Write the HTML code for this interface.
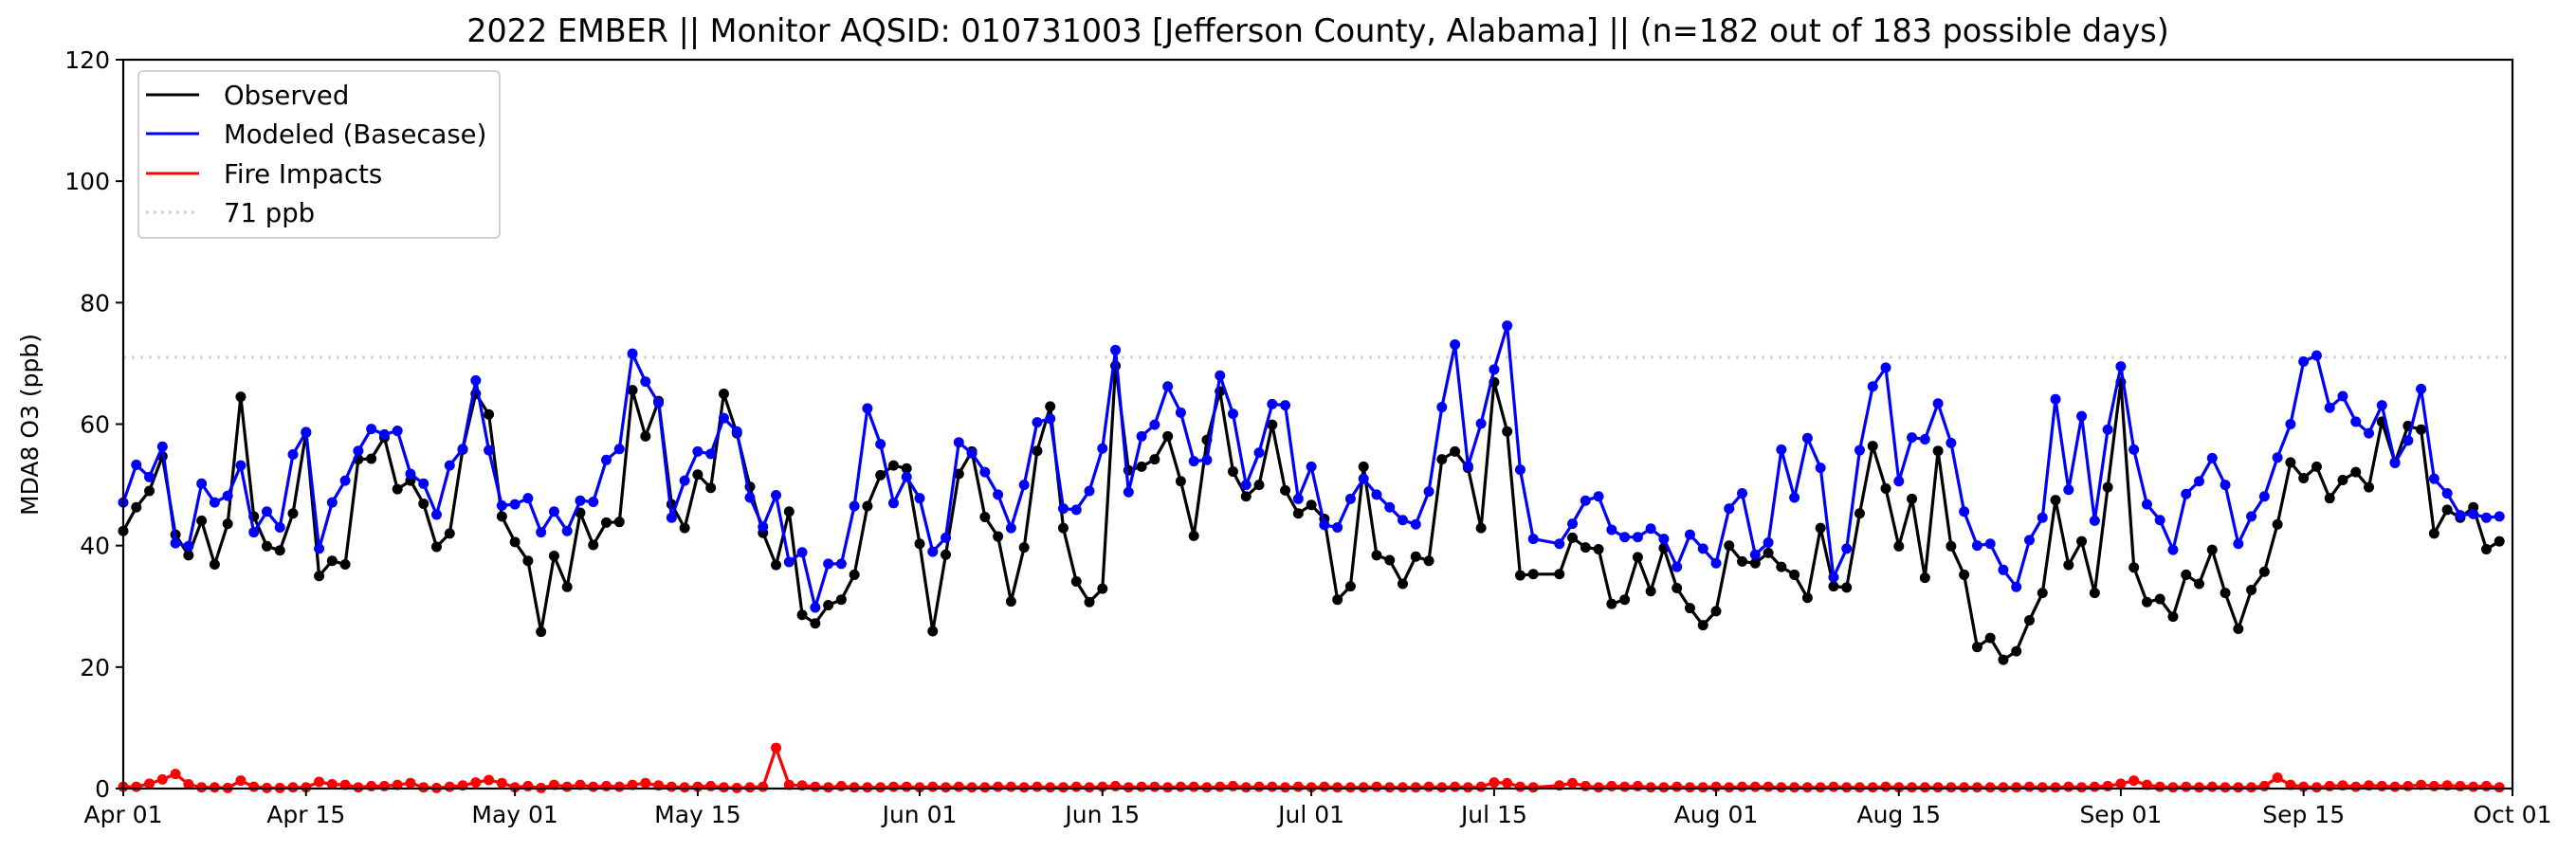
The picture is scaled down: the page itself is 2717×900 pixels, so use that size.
<!DOCTYPE html>
<html><head><meta charset="utf-8"><style>
html,body{margin:0;padding:0;background:#fff;}
svg{display:block;font-family:"DejaVu Sans","Liberation Sans",sans-serif;}
</style></head><body>
<svg id="chart" width="2717" height="900" viewBox="0 0 2717 900" xmlns="http://www.w3.org/2000/svg">
<rect width="2717" height="900" fill="#fff"/>
<text x="1390" y="44" font-size="33.4" text-anchor="middle" fill="#000">2022 EMBER || Monitor AQSID: 010731003 [Jefferson County, Alabama] || (n=182 out of 183 possible days)</text>
<text transform="translate(40,448) rotate(-90)" font-size="25" text-anchor="middle" fill="#000">MDA8 O3 (ppb)</text>
<g id="grid"></g>
<g id="series"></g>
<rect x="130" y="63" width="2520" height="769" fill="none" stroke="#000" stroke-width="2.2"/>
<g id="axes"></g>
<g>
<rect x="146" y="75" width="381" height="176" rx="5" fill="#fff" fill-opacity="0.8" stroke="#d0d0d0" stroke-width="2"/>
<line x1="154" y1="100" x2="210" y2="100" stroke="#000" stroke-width="3"/>
<text x="236" y="110" font-size="27.5">Observed</text>
<line x1="154" y1="141" x2="210" y2="141" stroke="#0000ff" stroke-width="3"/>
<text x="236" y="151" font-size="27.5">Modeled (Basecase)</text>
<line x1="154" y1="183" x2="210" y2="183" stroke="#ff0000" stroke-width="3"/>
<text x="236" y="193" font-size="27.5">Fire Impacts</text>
<line x1="154" y1="224" x2="210" y2="224" stroke="#d3d3d3" stroke-width="3" stroke-dasharray="3,5"/>
<text x="236" y="234" font-size="27.5">71 ppb</text>
</g>
</svg>
<script>
const observed = [42.4,46.3,49,54.7,41.8,38.4,44.1,36.9,43.6,64.5,44.8,39.9,39.2,45.3,58.6,35,37.5,36.9,54.2,54.3,57.8,49.3,50.7,46.9,39.8,42,55.8,65,61.6,44.8,
40.6,37.5,25.8,38.3,33.2,45.4,40.1,43.8,43.9,65.6,58.0,63.8,46.8,42.9,51.7,49.5,65.0,58.5,49.7,42.1,
36.8,45.6,28.6,27.2,30.2,31.1,35.2,46.5,51.6,53.2,52.7,40.3,25.9,38.5,51.8,55.5,44.7,41.5,30.8,39.7,
55.6,62.9,42.9,34.1,30.7,32.9,69.6,52.4,53.0,54.2,58.0,50.6,41.6,57.4,65.4,52.2,48.1,50.0,59.9,49.1,
45.3,46.7,44.4,31.1,33.3,53.0,38.4,37.6,33.7,38.2,37.5,54.2,55.5,52.8,42.9,66.9,58.8,35.1,35.3,null,
35.3,41.3,39.7,39.4,30.4,31.1,38.1,32.5,39.6,33.0,29.7,26.9,29.2,40.0,37.4,37.1,38.8,36.5,35.2,31.4,
42.9,33.3,33.1,45.3,56.4,49.4,39.9,47.7,34.7,55.6,39.9,35.2,23.3,24.8,21.2,22.6,27.7,32.2,47.5,36.8,
40.7,32.2,49.6,66.9,36.4,30.7,31.2,28.3,35.2,33.7,39.3,32.2,26.3,32.7,35.7,43.5,53.7,51.1,53.0,47.8,
50.8,52.1,49.6,60.4,53.7,59.7,59.1,42.0,45.9,44.6,46.3,39.4,40.7];
const modeled = [47.1,53.3,51.3,56.3,40.4,39.9,50.2,47.1,48.2,53.2,42.2,45.6,43,55,58.7,39.5,47.1,50.7,55.6,59.2,58.3,58.9,51.8,50.2,45.1,53.2,55.9,67.2,55.7,46.6,
46.8,47.8,42.2,45.6,42.4,47.4,47.2,54.1,55.9,71.6,67.0,63.5,44.6,50.7,55.5,55.1,61.0,58.8,47.9,43.1,
48.3,37.3,38.9,29.8,37.0,37.0,46.5,62.6,56.7,47.0,51.3,47.8,39.0,41.3,57.0,55.2,52.1,48.4,42.9,50.0,
60.3,60.9,46.1,45.9,49.0,56.0,72.2,48.8,58.0,59.9,66.2,61.9,53.9,54.1,68.0,61.7,50.0,55.3,63.3,63.1,
47.7,53.0,43.4,43.0,47.7,51.0,48.4,46.3,44.2,43.5,48.9,62.8,73.1,53.1,60.1,69.0,76.2,52.5,41.1,null,
40.3,43.6,47.4,48.1,42.6,41.4,41.4,42.8,41.1,36.5,41.8,39.5,37.1,46.1,48.6,38.5,40.5,55.8,47.9,57.7,
52.8,34.8,39.5,55.7,66.2,69.3,50.6,57.8,57.5,63.4,56.9,45.6,40.0,40.3,36.0,33.2,40.9,44.6,64.1,49.2,
61.3,44.1,59.1,69.5,55.8,46.8,44.2,39.3,48.5,50.6,54.4,50.0,40.3,44.8,48.1,54.5,60.0,70.3,71.3,62.7,
64.6,60.4,58.5,63.1,53.6,57.3,65.8,51.0,48.6,45.0,45.2,44.6,44.8];
const fire = [0.3,0.3,0.8,1.5,2.4,0.7,0.2,0.2,0.1,1.3,0.3,0.1,0.1,0.2,0.2,1.1,0.7,0.6,0.2,0.4,0.4,0.6,0.9,0.2,0.1,0.3,0.5,1.0,1.4,0.9,
0.2,0.4,0.1,0.6,0.3,0.6,0.3,0.4,0.3,0.6,0.9,0.5,0.3,0.2,0.3,0.4,0.2,0.1,0.2,0.3,
6.7,0.6,0.5,0.3,0.2,0.4,0.2,0.2,0.2,0.3,0.3,0.2,0.3,0.2,0.3,0.2,0.2,0.3,0.3,0.2,
0.3,0.2,0.2,0.3,0.2,0.3,0.4,0.2,0.3,0.3,0.2,0.3,0.3,0.2,0.3,0.4,0.2,0.3,0.3,0.2,
0.3,0.2,0.3,0.2,0.2,0.2,0.3,0.2,0.2,0.2,0.3,0.2,0.3,0.2,0.3,1.0,0.9,0.3,0.2,null,
0.5,0.9,0.4,0.2,0.4,0.3,0.4,0.2,0.2,0.3,0.2,0.2,0.3,0.2,0.3,0.3,0.3,0.2,0.2,0.2,
0.2,0.3,0.2,0.2,0.2,0.3,0.2,0.2,0.2,0.2,0.2,0.2,0.2,0.2,0.2,0.2,0.3,0.2,0.2,0.3,
0.2,0.3,0.4,0.8,1.3,0.6,0.3,0.2,0.3,0.2,0.3,0.2,0.2,0.2,0.4,1.8,0.6,0.3,0.2,0.4,
0.5,0.3,0.5,0.4,0.3,0.4,0.6,0.4,0.5,0.4,0.3,0.4,0.2];
const xTickLabels = ["Apr 01","Apr 15","May 01","May 15","Jun 01","Jun 15","Jul 01","Jul 15","Aug 01","Aug 15","Sep 01","Sep 15","Oct 01"];
const xTickDays = [0,14,30,44,61,75,91,105,122,136,153,167,183];
const yTicks = [0,20,40,60,80,100,120];
const threshold = 71;

const NS = "http://www.w3.org/2000/svg";
const X0 = 130, X1 = 2650, Y0 = 832, Y1 = 63, DAYS = 183, YMAX = 120;
function xs(d){ return X0 + d * (X1 - X0) / DAYS; }
function ys(v){ return Y0 - v * (Y0 - Y1) / YMAX; }
function mk(tag, attrs, parent){ const e = document.createElementNS(NS, tag); for (const k in attrs) e.setAttribute(k, attrs[k]); parent.appendChild(e); return e; }

const grid = document.getElementById('grid');
const thr = mk('line', {x1: X0, x2: X1, y1: ys(threshold), y2: ys(threshold), stroke: '#d3d3d3', 'stroke-width': 3, 'stroke-dasharray': '3,6'}, grid);



const axes = document.getElementById('axes');
xTickDays.forEach((d, i) => {
  const t = mk('line', {x1: xs(d), x2: xs(d), y1: Y0, y2: Y0 + 8, stroke: '#000', 'stroke-width': 2}, axes);
  
  
  const l = mk('text', {x: xs(d), y: Y0 + 36, 'font-size': 25, 'text-anchor': 'middle'}, axes);
  l.textContent = xTickLabels[i];
  
  
});
yTicks.forEach(v => {
  const t = mk('line', {x1: X0 - 8, x2: X0, y1: ys(v), y2: ys(v), stroke: '#000', 'stroke-width': 2}, axes);
  
  
  const l = mk('text', {x: X0 - 14, y: ys(v) + 9, 'font-size': 25, 'text-anchor': 'end'}, axes);
  l.textContent = v;
  
  
});

const series = document.getElementById('series');
function drawSeries(arr, color, name){
  const g = mk('g', {}, series);
  
  
  let d = '', pen = false;
  arr.forEach((v, i) => {
    if (v === null) return;
    d += (pen ? 'L' : 'M') + xs(i).toFixed(1) + ',' + ys(v).toFixed(1);
    pen = true;
  });
  mk('path', {d: d, fill: 'none', stroke: color, 'stroke-width': 3.2, 'stroke-linejoin': 'round'}, g);
  arr.forEach((v, i) => {
    if (v === null) return;
    const c = mk('circle', {cx: xs(i), cy: ys(v), r: 5.5, fill: color}, g);
    
    
  });
}
drawSeries(observed, '#000000', 'observed-series');
drawSeries(modeled, '#0000ff', 'modeled-series');
drawSeries(fire, '#ff0000', 'fire-impacts-series');
</script>
</body></html>
